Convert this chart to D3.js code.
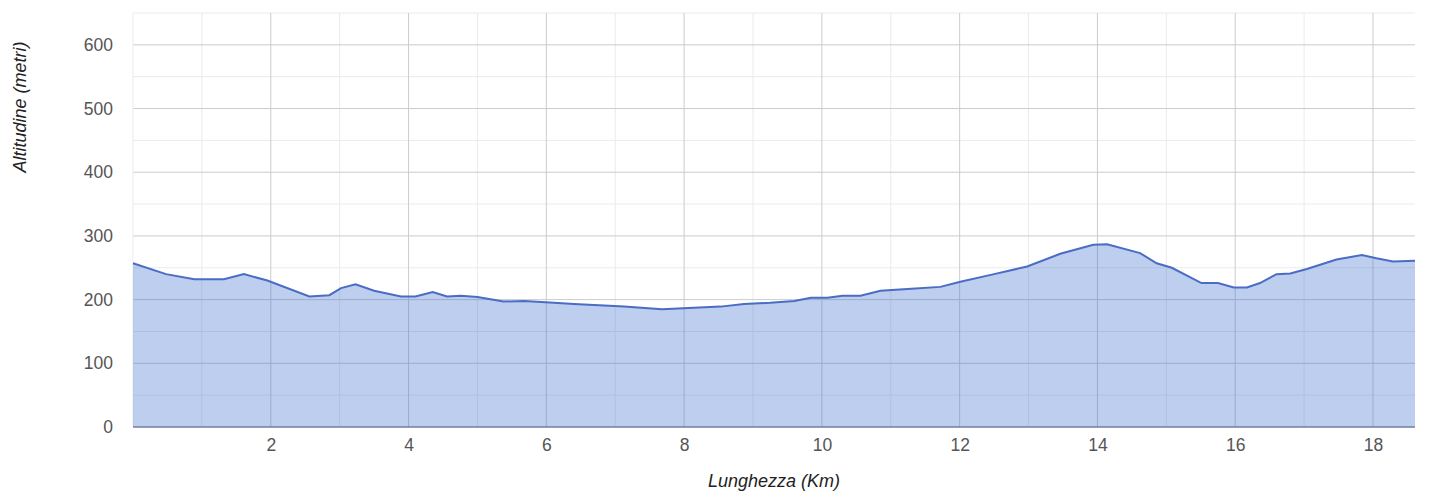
<!DOCTYPE html>
<html><head><meta charset="utf-8">
<script src="https://cdn.jsdelivr.net/npm/d3@7"></script>
<style>body{margin:0;background:#fff}svg{display:block;font-family:"Liberation Sans",Arial,sans-serif}</style>
</head><body><svg id="c" width="1434" height="491"></svg>
<script>
const km = [0,0.48,0.89,1.32,1.61,1.95,2.56,2.85,3.02,3.23,3.5,3.89,4.1,4.35,4.56,4.76,5.0,5.38,5.68,6.11,6.4,7.13,7.68,8.53,8.87,9.25,9.6,9.84,10.08,10.3,10.56,10.85,11.3,11.72,12.01,12.5,12.98,13.46,13.94,14.14,14.62,14.86,15.08,15.51,15.75,15.98,16.17,16.36,16.6,16.8,17.04,17.47,17.84,18.05,18.29,18.61];
const alt = [257,240,232,232,240,230,205,207,218,224,214,205,205,212,205,206,204,197,198,195,193,189,185,189,193,195,198,203,203,206,206,214,217,220,228,240,252,272,286,287,273,257,250,226,226,219,219,226,240,241,248,263,270,265,260,261];
const xTicks = [2,4,6,8,10,12,14,16,18];
const yTicks = [0,100,200,300,400,500,600];
const xTitle = "Lunghezza (Km)";
const yTitle = "Altitudine (metri)";

const svg = d3.select("#c");
const L=133, R=1415, T=13, B=427;
const x = d3.scaleLinear().domain([0,18.61]).range([L,R]);
const y = d3.scaleLinear().domain([0,650]).range([B,T]);
const data = km.map((k,i)=>({k, a:alt[i]}));

const g = svg.append("g");
d3.range(1,19,1).filter(v=>v%2).forEach(v=>g.append("line").attr("x1",x(v)).attr("x2",x(v)).attr("y1",T).attr("y2",B).attr("stroke","#ebebeb"));
d3.range(50,651,100).forEach(v=>g.append("line").attr("x1",L).attr("x2",R).attr("y1",y(v)).attr("y2",y(v)).attr("stroke","#ebebeb"));
xTicks.forEach(v=>g.append("line").attr("x1",x(v)).attr("x2",x(v)).attr("y1",T).attr("y2",B).attr("stroke","#cccccc"));
yTicks.slice(1).forEach(v=>g.append("line").attr("x1",L).attr("x2",R).attr("y1",y(v)).attr("y2",y(v)).attr("stroke","#cccccc"));
g.append("line").attr("x1",L).attr("x2",L).attr("y1",T).attr("y2",B).attr("stroke","#ebebeb");

svg.append("path").datum(data).attr("fill","#3366cc").attr("fill-opacity",0.32)
  .attr("d",d3.area().x(d=>x(d.k)).y0(y(0)).y1(d=>y(d.a)));
svg.append("path").datum(data).attr("fill","none").attr("stroke","#4a6cc4").attr("stroke-width",2)
  .attr("d",d3.line().x(d=>x(d.k)).y(d=>y(d.a)));
svg.append("line").attr("x1",L).attr("x2",R).attr("y1",y(0)).attr("y2",y(0)).attr("stroke","#6f7f9f").attr("stroke-width",1.5);

const xa = svg.append("g").attr("transform",`translate(0,${B})`).call(d3.axisBottom(x).tickValues(xTicks).tickSize(0).tickPadding(12));
const ya = svg.append("g").attr("transform",`translate(${L},0)`).call(d3.axisLeft(y).tickValues(yTicks).tickSize(0).tickPadding(20));
[xa,ya].forEach(a=>{a.select(".domain").remove();a.selectAll("text").attr("font-size",17.5).attr("fill","#555").attr("font-family","Liberation Sans, Arial, sans-serif");});

svg.append("text").attr("x",(L+R)/2).attr("y",487).attr("text-anchor","middle").attr("font-size",18).attr("font-style","italic").attr("fill","#222").text(xTitle);
svg.append("text").attr("transform","translate(26,107) rotate(-90)").attr("text-anchor","middle").attr("font-size",18).attr("font-style","italic").attr("fill","#222").text(yTitle);
</script></body></html>
